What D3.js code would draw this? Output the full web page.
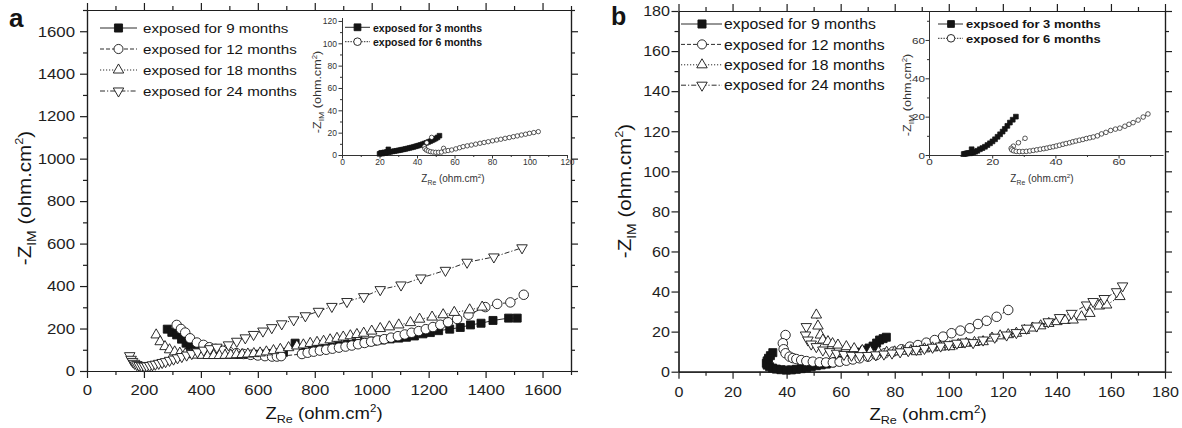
<!DOCTYPE html>
<html>
<head>
<meta charset="utf-8">
<script src="https://cdn.jsdelivr.net/npm/d3@7"></script>
<style>
  html, body { margin: 0; padding: 0; background: #fff; }
  svg { display: block; font-family: "Liberation Sans", Arial, Helvetica, sans-serif; }
</style>
</head>
<body>
<svg id="chart" width="1182" height="428"></svg>
<script>
// ---------- legend labels ----------
const mainLabels = ["exposed for 9 months", "exposed for 12 months", "exposed for 18 months", "exposed for 24 months"];
const insetLabelsA = ["exposed for 3 months", "exposed for 6 months"];
const insetLabelsB = ["expsoed for 3 months", "exposed for 6 months"];

// ---------- tick values ----------
const aMajor = [0, 200, 400, 600, 800, 1000, 1200, 1400, 1600];
const bMajor = [0, 20, 40, 60, 80, 100, 120, 140, 160, 180];
const aInXMajor = [0, 20, 40, 60, 80, 100, 120];
const aInYMajor = [0, 20, 40, 60, 80, 100, 120];
const bInMajor = [0, 20, 40, 60];

// ---------- panel a: [Z_Re, -Z_IM] in ohm.cm2 ----------
const a9 = [[282,197],[298,182],[315,170],[332,150],[348,131],[362,120],[378,112],[395,104],[412,98],[430,92],[450,88],[470,84],[492,81],[515,79],[540,78],[565,78],[590,79],[615,80],[640,82],[665,85],[690,88],[731,131],[760,95],[790,100],[820,105],[854,112],[885,118],[915,125],[945,130],[975,136],[1005,141],[1035,146],[1065,151],[1095,155],[1122,159],[1150,165],[1180,175],[1206,181],[1235,190],[1274,197],[1311,205],[1347,217],[1384,225],[1426,238],[1481,249],[1511,249]];
const a12 = [[315,217],[330,198],[345,181],[362,154],[386,134],[409,123],[430,112],[452,104],[475,96],[500,90],[525,84],[550,80],[575,76],[600,73],[625,70],[650,68],[667,68],[682,70],[755,80],[775,86],[796,91],[818,96],[840,100],[862,105],[885,110],[908,115],[930,120],[952,126],[975,132],[998,138],[1020,144],[1044,150],[1068,157],[1092,164],[1116,172],[1140,180],[1165,188],[1190,197],[1215,207],[1241,218],[1268,230],[1300,245],[1340,265],[1399,301],[1441,316],[1487,323],[1534,359]];
const a18 = [[243,170],[257,138],[274,115],[290,100],[308,90],[326,84],[345,80],[365,77],[385,75],[405,74],[425,73],[445,73],[465,73],[485,74],[505,75],[525,77],[545,78],[565,80],[586,82],[608,85],[630,90],[655,96],[679,102],[708,110],[737,118],[760,123],[784,130],[808,135],[831,140],[854,147],[878,154],[900,160],[925,166],[948,172],[972,178],[1000,188],[1030,200],[1062,208],[1095,217],[1136,228],[1168,244],[1212,254],[1251,265],[1290,276],[1344,288],[1388,301]];
const a24 = [[150,72],[155,55],[160,45],[167,36],[175,30],[183,26],[192,24],[201,23],[210,24],[220,26],[230,29],[240,32],[252,36],[264,40],[276,44],[290,50],[304,56],[318,62],[333,68],[350,75],[368,82],[388,90],[410,98],[432,105],[456,112],[497,123],[526,140],[556,156],[585,172],[618,188],[649,204],[684,222],[726,241],[767,260],[813,281],[860,304],[913,327],[972,350],[1030,383],[1103,405],[1173,438],[1259,474],[1335,512],[1429,537],[1528,580]];
const aIn3 = [[20,1.0],[20.5,1.5],[21,2.0],[21.5,1.2],[22,1.8],[22.5,2.4],[23,1.6],[23.5,2.2],[24,2.8],[24.7,5.1],[25,2.5],[26,2.9],[27,3.2],[28,3.5],[29,3.8],[30,4.1],[31,4.4],[32,4.8],[33,5.1],[34,5.5],[35,5.9],[36,6.3],[37,6.7],[38,7.1],[39,7.6],[40,8.1],[41,8.6],[42,9.1],[43,9.7],[44,10.3],[45,10.9],[46,11.6],[47,12.3],[48,13.1],[49,13.9],[50,14.8],[51,15.8],[52,17.3]];
const aIn6 = [[47.8,15.8],[45.2,11.0],[43.9,7.4],[44.2,5.6],[45.0,4.4],[46.0,3.6],[47.2,3.0],[48.5,2.6],[50.0,2.4],[51.5,2.4],[53.0,2.6],[54.2,6.0],[55.0,3.6],[56.6,4.0],[58.5,4.5],[60.7,5.5],[62.7,6.5],[64.6,7.5],[66.8,8.2],[69.0,8.9],[71.3,9.7],[73.6,10.5],[75.8,11.2],[78.0,11.9],[80.3,12.7],[82.5,13.4],[84.7,14.1],[87.0,14.9],[89.2,15.6],[91.4,16.4],[93.5,17.1],[95.7,17.9],[97.9,18.6],[100.0,19.4],[102.3,20.1],[104.7,20.9]];

// ---------- panel b ----------
const b9 = [[34.9,9.5],[34.0,8.0],[33.3,6.7],[32.8,5.4],[32.5,4.2],[32.8,3.3],[33.7,2.5],[34.8,1.8],[36.2,1.3],[37.9,1.0],[39.9,0.8],[41.8,0.9],[43.6,1.2],[45.4,1.5],[47.3,2.0],[49.1,2.5],[51.0,3.0],[52.8,3.4],[54.7,3.8],[56.5,4.4],[58.4,5.0],[60.2,5.8],[62.1,6.7],[64.0,7.7],[65.8,8.8],[67.4,9.8],[68.9,10.8],[70.5,11.8],[72.0,12.8],[73.3,14.3],[74.4,15.8],[75.7,16.5],[76.9,17.2]];
const b12 = [[39.6,18.3],[38.6,14.2],[38.9,11.2],[39.6,9.2],[41.1,7.5],[42.3,6.8],[43.6,6.3],[45.4,5.8],[47.3,5.3],[49.7,5.0],[52.2,4.7],[54.6,4.6],[57.1,4.6],[59.6,5.0],[62.1,5.5],[64.5,6.1],[67.0,6.7],[70.1,7.5],[73.2,8.3],[76.3,9.2],[79.4,10.0],[82.5,11.2],[85.6,12.5],[88.6,13.3],[91.7,14.5],[94.8,15.8],[97.9,17.5],[101.0,19.2],[104.3,20.5],[107.8,21.7],[110.8,23.8],[114.0,25.4],[117.7,27.4],[122.0,30.8]];
const b18 = [[51.0,28.3],[51.6,22.8],[52.5,18.3],[53.4,15.8],[55.3,15.0],[57.0,14.0],[59.0,13.3],[62.1,12.5],[65.0,11.5],[68.0,10.6],[71.0,10.0],[74.0,9.8],[77.0,9.7],[80.0,9.9],[83.0,10.2],[86.0,10.6],[88.0,10.0],[91.0,11.4],[94.0,11.9],[97.0,12.3],[100.4,12.5],[103.5,13.6],[106.5,14.2],[109.5,14.6],[112.7,15.0],[116.0,16.8],[119.0,17.9],[122.0,18.5],[125.0,19.2],[128.0,20.6],[131.0,21.8],[134.0,22.9],[137.0,24.1],[140.0,25.0],[143.0,25.6],[146.0,25.8],[149.1,27.4],[152.2,29.1],[155.7,32.8],[158.4,33.3],[163.3,37.5]];
const b24 = [[47.3,22.5],[47.0,18.3],[47.9,15.8],[49.1,13.8],[51.0,12.5],[53.4,10.8],[55.9,10.0],[58.5,9.2],[61.2,8.6],[64.0,8.2],[67.0,8.0],[70.0,8.1],[73.0,8.4],[76.0,8.8],[79.0,9.3],[82.0,9.9],[85.0,10.5],[88.0,11.1],[91.0,11.6],[94.0,12.2],[97.0,12.8],[100.0,13.5],[103.0,14.2],[106.0,14.8],[109.0,14.5],[112.7,15.8],[117.0,17.2],[121.4,18.3],[125.0,19.5],[128.8,21.7],[132.5,22.8],[136.8,24.9],[141.0,27.0],[145.4,29.1],[151.0,33.3],[153.4,35.0],[157.5,36.5],[162.1,39.9],[164.3,42.8]];
const bIn3 = [[11.0,0.5],[11.4,0.6],[11.8,0.8],[12.2,0.9],[12.6,1.0],[13.0,0.9],[13.5,3.0],[13.5,1.2],[14.0,1.4],[14.6,1.7],[15.3,2.2],[16.1,3.0],[16.9,3.6],[17.7,4.3],[18.5,5.2],[19.3,6.1],[20.1,7.1],[20.9,8.2],[21.7,9.5],[22.5,10.8],[23.3,12.2],[24.0,13.6],[24.8,15.2],[25.6,16.9],[26.5,18.4],[27.5,20.0]];
const bIn6 = [[30.4,8.7],[28.3,6.4],[26.7,4.6],[26.0,3.5],[26.2,2.7],[26.8,2.2],[27.6,1.9],[28.6,1.8],[29.7,1.8],[30.8,1.9],[31.9,2.1],[33.0,2.4],[34.1,2.7],[35.2,3.0],[36.3,3.3],[37.3,3.6],[38.3,4.0],[39.3,4.3],[40.3,4.7],[41.3,5.1],[42.4,5.6],[43.4,6.0],[44.5,6.4],[45.5,6.9],[46.5,7.3],[47.6,7.7],[48.7,8.1],[49.8,8.6],[50.9,9.0],[52.0,9.4],[53.3,10.0],[54.6,11.0],[56.0,11.8],[57.5,12.8],[59.0,13.5],[60.4,14.0],[62.0,15.0],[63.3,16.0],[64.6,16.9],[66.2,18.2],[67.8,19.8],[69.3,21.4]];

// ---------- styles ----------
const INK = "#141414";
const seriesStyle = [
  { sym: "square",  fill: INK,    dash: null },
  { sym: "circle",  fill: "#fff", dash: "4,2" },
  { sym: "triUp",   fill: "#fff", dash: "1.2,1.8" },
  { sym: "triDown", fill: "#fff", dash: "5,2,1.2,2" }
];

const svg = d3.select("#chart");

function symbolPath(sym, s) {
  const h = s * 0.866;
  switch (sym) {
    case "square":  return `M${-s/2},${-s/2}h${s}v${s}h${-s}Z`;
    case "circle":  return d3.symbol(d3.symbolCircle, Math.PI * (s / 2) * (s / 2))();
    case "triUp":   return `M0,${-2*h/3}L${s/2},${h/3}L${-s/2},${h/3}Z`;
    case "triDown": return `M0,${2*h/3}L${s/2},${-h/3}L${-s/2},${-h/3}Z`;
  }
}

function drawSeries(g, x, y, data, st, size, sw) {
  g.append("path").datum(data)
    .attr("d", d3.line().x(d => x(d[0])).y(d => y(d[1])))
    .attr("fill", "none").attr("stroke", INK).attr("stroke-width", sw)
    .attr("stroke-dasharray", st.dash);
  g.append("g").selectAll("path").data(data).join("path")
    .attr("transform", d => `translate(${x(d[0])},${y(d[1])})`)
    .attr("d", symbolPath(st.sym, size))
    .attr("fill", st.fill).attr("stroke", INK).attr("stroke-width", sw);
}

// one axis with major (labelled) and minor ticks
function axisPair(g, gen, scale, major, minor, o) {
  const gm = g.append("g").call(gen(scale).tickValues(minor).tickSize(o.minorLen).tickFormat("").tickSizeOuter(0));
  const gM = g.append("g").call(gen(scale).tickValues(major).tickSize(o.majorLen).tickSizeOuter(0)
    .tickFormat(o.labels ? d3.format("d") : ""));
  [gm, gM].forEach(a => {
    a.attr("font-size", null).attr("font-family", null);
    a.selectAll("path,line").attr("stroke", o.color).attr("stroke-width", o.width);
  });
  gM.selectAll("text").attr("fill", o.color).attr("font-size", o.fontSize);
  return gM;
}

function styleLeftLabels(gM, gap, sx) {
  gM.selectAll("text").attr("x", 0).attr("dy", "0.34em")
    .attr("transform", `translate(${-gap},0) scale(${sx},1)`);
}
function styleBottomLabels(gM, base, sx) {
  gM.selectAll("text").attr("y", 0).attr("dy", 0)
    .attr("transform", `translate(0,${base}) scale(${sx},1)`);
}

function zTitle(g, tf, size, lead, sub, sx, color) {
  const t = g.append("text").attr("transform", tf + ` scale(${sx},1)`)
    .attr("text-anchor", "middle").attr("font-size", size).attr("fill", color);
  t.append("tspan").text(lead + "Z");
  t.append("tspan").attr("font-size", size * 0.68).attr("dy", size * 0.25).text(sub);
  t.append("tspan").attr("dy", -size * 0.25).text(" (ohm.cm");
  t.append("tspan").attr("font-size", size * 0.62).attr("dy", -size * 0.42).text("2");
  t.append("tspan").attr("dy", size * 0.42).text(")");
}

function legend(g, labels, styles, o) {
  labels.forEach((lab, i) => {
    const cy = o.y0 + i * o.dy, st = styles[i];
    g.append("line").attr("x1", o.x1).attr("x2", o.x2).attr("y1", cy).attr("y2", cy)
      .attr("stroke", INK).attr("stroke-width", o.sw).attr("stroke-dasharray", st.dash);
    g.append("path").attr("transform", `translate(${o.xm},${cy})`)
      .attr("d", symbolPath(st.sym, st.sym === "square" ? o.size * 0.85 : (st.sym === "circle" ? o.size * 0.95 : o.size * 1.1)))
      .attr("fill", st.fill).attr("stroke", INK).attr("stroke-width", o.sw);
    g.append("text").attr("transform", `translate(${o.tx},${cy + o.size * 0.55}) scale(${o.sx},1)`)
      .attr("font-size", o.fontSize).attr("font-weight", o.bold ? "bold" : null)
      .attr("fill", INK).text(lab);
  });
}

// main framed plot
function mainPanel(o) {
  const g = svg.append("g");
  const x = d3.scaleLinear().domain(o.xDom).range(o.xRange);
  const y = d3.scaleLinear().domain(o.yDom).range(o.yRange);
  const ax = { minorLen: 4, majorLen: 7, color: "#1e1e1e", width: 1.2, fontSize: 14, labels: true };
  const ax0 = Object.assign({}, ax, { labels: false });
  const bot = g.append("g").attr("transform", `translate(0,${o.yRange[0]})`);
  styleBottomLabels(axisPair(bot, d3.axisBottom, x, o.major, o.xMinor, ax), o.xBase, o.sx);
  const top = g.append("g").attr("transform", `translate(0,${o.yRange[1]})`);
  axisPair(top, d3.axisTop, x, o.major, o.xMinor, ax0);
  const left = g.append("g").attr("transform", `translate(${o.xRange[0]},0)`);
  styleLeftLabels(axisPair(left, d3.axisLeft, y, o.major, o.yMinor, ax), o.yGap, o.sx);
  const right = g.append("g").attr("transform", `translate(${o.xRange[1]},0)`);
  axisPair(right, d3.axisRight, y, o.major, o.yMinor, ax0);
  return { g, x, y };
}

function insetPanel(o) {
  const g = svg.append("g");
  const x = d3.scaleLinear().domain(o.xDom).range(o.xRange);
  const y = d3.scaleLinear().domain(o.yDom).range(o.yRange);
  const ax = { minorLen: 2, majorLen: 3.5, color: "#333", width: 1, fontSize: o.fontSize, labels: true };
  const bot = g.append("g").attr("transform", `translate(0,${o.yRange[0]})`);
  styleBottomLabels(axisPair(bot, d3.axisBottom, x, o.xMajor, o.xMinor, ax), o.xBase, o.sx);
  const left = g.append("g").attr("transform", `translate(${o.xRange[0]},0)`);
  styleLeftLabels(axisPair(left, d3.axisLeft, y, o.yMajor, o.yMinor, ax), o.yGap, o.sx);
  return { g, x, y };
}

const minorOf = (lo, hi, step) => d3.range(lo, hi + 0.001, step);

// ================= panel a =================
const A = mainPanel({
  xDom: [0, 1700], xRange: [87, 571], yDom: [0, 1700], yRange: [371, 10],
  major: aMajor, xMinor: minorOf(100, 1700, 200), yMinor: minorOf(100, 1700, 200),
  xBase: 24, yGap: 12, sx: 1.2
});
[a9, a12, a18, a24].forEach((d, i) => drawSeries(A.g, A.x, A.y, d, seriesStyle[i], i === 0 ? 8 : (i === 1 ? 9.5 : 10.5), 0.9));
legend(A.g, mainLabels, seriesStyle, { y0: 28, dy: 21, x1: 100, x2: 137, xm: 118.5, tx: 143, size: 9.5, sw: 0.9, fontSize: 13.5, sx: 1.12 });
zTitle(svg, "translate(324,419)", 17, "", "Re", 1.09, INK);
zTitle(svg, "translate(31,198) rotate(-90)", 18, "-", "IM", 1.14, INK);
svg.append("text").attr("x", 9).attr("y", 27).attr("font-size", 26).attr("font-weight", "bold").attr("fill", INK).text("a");

// inset of panel a
const AI = insetPanel({
  xDom: [0, 120], xRange: [342, 567], yDom: [0, 123], yRange: [155, 17.6],
  xMajor: aInXMajor, xMinor: minorOf(10, 110, 20), yMajor: aInYMajor, yMinor: minorOf(10, 110, 20),
  xBase: 10, yGap: 5, sx: 1.0, fontSize: 8.5
});
drawSeries(AI.g, AI.x, AI.y, aIn3, seriesStyle[0], 4.6, 0.7);
drawSeries(AI.g, AI.x, AI.y, aIn6, { sym: "circle", fill: "#fff", dash: "1.2,1.2" }, 4.4, 0.7);
legend(AI.g, insetLabelsA, [seriesStyle[0], { sym: "circle", fill: "#fff", dash: "1.5,1.2" }],
  { y0: 27.3, dy: 14.4, x1: 345, x2: 370, xm: 357.5, tx: 373, size: 8, sw: 0.9, fontSize: 10.5, sx: 1.0, bold: true });
zTitle(svg, "translate(453,182)", 10, "", "Re", 1.0, "#333");
zTitle(svg, "translate(321,92) rotate(-90)", 10.5, "-", "IM", 1.2, "#333");

// ================= panel b =================
const B = mainPanel({
  xDom: [0, 180], xRange: [678.5, 1165], yDom: [0, 180], yRange: [371.7, 11],
  major: bMajor, xMinor: minorOf(10, 170, 20), yMinor: minorOf(10, 170, 20),
  xBase: 25, yGap: 8.5, sx: 1.15
});
[b9, b12, b18, b24].forEach((d, i) => drawSeries(B.g, B.x, B.y, d, seriesStyle[i], i === 0 ? 8 : (i === 1 ? 9.5 : 10.5), 0.9));
legend(B.g, mainLabels, seriesStyle, { y0: 24, dy: 20.4, x1: 681, x2: 722, xm: 702, tx: 724, size: 9.5, sw: 0.9, fontSize: 14.5, sx: 1.09 });
zTitle(svg, "translate(928,420)", 17, "", "Re", 1.09, INK);
zTitle(svg, "translate(631,191) rotate(-90)", 18, "-", "IM", 1.14, INK);
svg.append("text").attr("x", 611).attr("y", 25).attr("font-size", 25).attr("font-weight", "bold").attr("fill", INK).text("b");

// inset of panel b
const BI = insetPanel({
  xDom: [0, 74], xRange: [929, 1162.8], yDom: [0, 75], yRange: [155, 11.2],
  xMajor: bInMajor, xMinor: minorOf(10, 70, 20), yMajor: bInMajor, yMinor: minorOf(10, 70, 20),
  xBase: 10, yGap: 4, sx: 1.3, fontSize: 9
});
drawSeries(BI.g, BI.x, BI.y, bIn3, seriesStyle[0], 4.8, 0.7);
drawSeries(BI.g, BI.x, BI.y, bIn6, { sym: "circle", fill: "#fff", dash: "1.2,1.2" }, 4.6, 0.7);
legend(BI.g, insetLabelsB, [seriesStyle[0], { sym: "circle", fill: "#fff", dash: "1.5,1.2" }],
  { y0: 24, dy: 14.3, x1: 938, x2: 963, xm: 951, tx: 966, size: 8, sw: 0.9, fontSize: 11, sx: 1.18, bold: true });
zTitle(svg, "translate(1042,182)", 10, "", "Re", 1.0, "#333");
zTitle(svg, "translate(911,95) rotate(-90)", 10.5, "-", "IM", 1.2, "#333");
</script>
</body>
</html>
